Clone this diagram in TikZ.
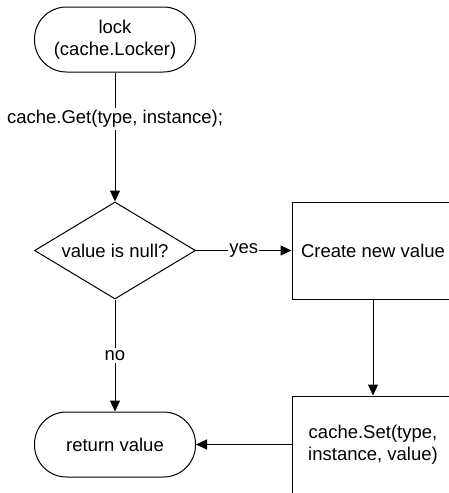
\documentclass[tikz,border=0pt]{standalone}
\usepackage{fontspec}
\setmainfont{Liberation Sans}
\usetikzlibrary{shapes.geometric,arrows.meta}
\begin{document}
\begin{tikzpicture}[x=1pt,y=-1pt,
  every node/.style={font=\fontsize{18.5}{22}\selectfont, inner sep=0pt},
  line/.style={draw=black, line width=1pt},
  arr/.style={line, -{Triangle[length=11pt,width=10pt]}},
  terminal/.style={line, rounded corners=32pt, minimum width=161pt, minimum height=65pt, align=center},
  decision/.style={line, diamond, aspect=1.66, minimum width=161pt, minimum height=97pt, align=center},
  process/.style={line, rectangle, minimum width=162pt, minimum height=97pt, align=center},
  lbl/.style={fill=white, inner sep=2pt}
]
\useasboundingbox (0,0) rectangle (449,493);
\clip (0,0) rectangle (449,493);
\node[terminal] (lock) at (115,39.5) {lock\\(cache.Locker)};
\node[decision] (null) at (115,250.5) {value is null?};
\node[process] (create) at (373,250.5) {Create new value};
\node[process] (set) at (373,444.5) {cache.Set(type,\\instance, value)};
\node[terminal] (ret) at (115,444.5) {return value};
\draw[arr] (lock) -- node[lbl, pos=0.36] (get) {cache.Get(type, instance);} (null);
\draw[arr] (null) -- node[lbl, inner sep=1pt] (yes) {yes} (create);
\draw[arr] (null) -- node[lbl, pos=0.5] (no) {no} (ret);
\draw[arr] (create) -- (set);
\draw[arr] (set) -- (ret);
\end{tikzpicture}
\end{document}
